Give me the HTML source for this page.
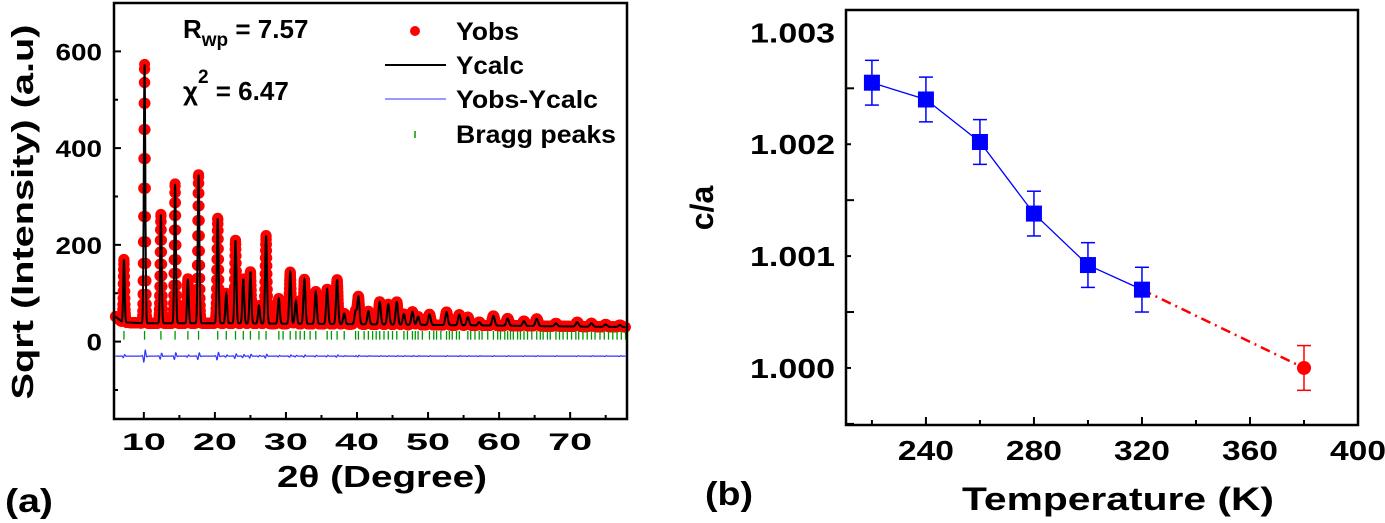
<!DOCTYPE html>
<html><head><meta charset="utf-8">
<style>
body{margin:0;background:#fff;}
svg{display:block;font-family:"Liberation Sans",Arial,sans-serif;font-weight:bold;}
</style></head>
<body>
<svg id="fig" width="1385" height="523" viewBox="0 0 1385 523">
<g id="left"></g>
<g id="right"></g>
</svg>
<script>
// ---------- Panel (a) data ----------
const peakPos = [7.2,10.1,12.4,14.4,16.2,17.7,20.4,21.6,22.9,24.0,25.0,26.2,27.2,29.0,30.6,31.4,32.6,34.2,35.8,37.2,38.2,39.8,40.2,41.6,43.2,44.4,45.6,46.6,47.8,48.6,50.2,52.6,54.4,55.6,57.2,59.2,61.2,63.5,65.3,68,71,73,75,77];
const peakHeight = [130,535,225,288,92,307,217,62,172,92,107,37,182,52,107,47,92,67,72,92,22,27,57,27,47,42,47,22,27,17,22,27,22,17,7,20,15,10,15,6,9,7,5,4];
const bgAngles = [6,7,10,20,40,60,78];
const bgValues = [52,40,38,38,36,33,30];
const braggPos = [7.2,10.1,12.4,14.4,16.2,17.7,20.4,21.6,22.9,24.0,25.0,26.2,27.2,29.0,29.6,30.6,31.4,32.0,32.6,33.4,34.2,35.8,36.4,37.2,38.2,39.8,40.2,41.0,41.6,42.2,42.7,43.2,43.8,44.4,45.0,45.6,46.6,47.1,47.8,48.2,48.6,49.2,50.2,50.8,51.2,51.8,52.6,53.0,53.4,54.0,54.4,55.6,56.0,56.6,57.2,57.6,58.4,59.2,59.8,60.2,60.8,61.2,61.6,62.0,62.6,63.0,63.5,64.0,64.6,65.3,65.8,66.2,66.8,67.2,68.0,68.5,69.0,69.6,70.2,70.8,71.2,71.8,72.4,73.0,73.5,74.2,74.8,75.4,76.0,76.6,77.2,77.8];
const diffSpike = [4,16,8,9,3,9,10,3,6,4,5,2,5,2,3,2,3,2,2,3,1,1,2,1,1,1,1,1,1,1,1,1,1,1,1,1,1,1,1,1,1,1,1,1];
const xTicksA = [10,20,30,40,50,60,70];
const yTicksA = [0,200,400,600];
// ---------- Panel (b) data ----------
const temps = [220,240,260,280,300,320];
const ratio = [1.00255,1.0024,1.00202,1.00138,1.00092,1.0007];
const ratioErr = [0.0002,0.0002,0.0002,0.0002,0.0002,0.0002];
const hotTemp = [380];
const hotRatio = [1.0000];
const hotErr = [0.0002];
const xTicksB = [240,280,320,360,400];
const yTicksB = [1.000,1.001,1.002,1.003];
const yTickLabelsB = ["1.000","1.001","1.002","1.003"];

const NS="http://www.w3.org/2000/svg";
function mk(parent,tag,attrs,txt){const e=document.createElementNS(NS,tag);for(const k in attrs)e.setAttribute(k,attrs[k]);if(txt!==undefined)e.textContent=txt;parent.appendChild(e);return e;}

// ===== Panel A =====
const L=document.getElementById('left');
const ax={x0:114,x1:627,y0:3,y1:419,xmin:5.8,xmax:78,ymin:-160,ymax:700};
const sxA=v=>ax.x0+(v-ax.xmin)/(ax.xmax-ax.xmin)*(ax.x1-ax.x0);
const syA=v=>ax.y1-(v-ax.ymin)/(ax.ymax-ax.ymin)*(ax.y1-ax.y0);
function bg(t){for(let i=0;i<bgAngles.length-1;i++){if(t<=bgAngles[i+1]){const f=(t-bgAngles[i])/(bgAngles[i+1]-bgAngles[i]);return bgValues[i]+f*(bgValues[i+1]-bgValues[i]);}}return bgValues[bgValues.length-1];}
function calc(t){let s=bg(t);for(let i=0;i<peakPos.length;i++){const w=0.09+peakPos[i]*0.0015;s+=peakHeight[i]*Math.exp(-Math.pow((t-peakPos[i])/w,2)/2);}return s;}
function diff(t){let s=-30;for(let i=0;i<peakPos.length;i++){const d=t-peakPos[i];s+=diffSpike[i]*Math.sin(d*12)*Math.exp(-d*d/0.05);}return s;}
const grid=[];for(let t=6;t<=77.8;t+=0.02)grid.push(t);

const obsG=mk(L,'g',{fill:'#ff0000'});


grid.forEach(t=>{mk(obsG,'circle',{cx:sxA(t).toFixed(1),cy:syA(calc(t)).toFixed(1),r:5.5});});
let dC='';grid.forEach((t,i)=>{dC+=(i?'L':'M')+sxA(t).toFixed(1)+','+syA(calc(t)).toFixed(1);});
const calcP=mk(L,'path',{d:dC,fill:'none',stroke:'#000',"stroke-width":2});


let dD='';grid.forEach((t,i)=>{dD+=(i?'L':'M')+sxA(t).toFixed(1)+','+syA(diff(t)).toFixed(1);});
const diffP=mk(L,'path',{d:dD,fill:'none',stroke:'#3333ff',"stroke-width":1.2});


const bG=mk(L,'g',{stroke:'#009900',"stroke-width":1.3});


braggPos.forEach(p=>{mk(bG,'line',{x1:sxA(p),x2:sxA(p),y1:syA(22),y2:syA(4)});});

const fa=mk(L,'rect',{x:ax.x0,y:ax.y0,width:ax.x1-ax.x0,height:ax.y1-ax.y0,fill:'none',stroke:'#000',"stroke-width":2.5});


for(let v=5;v<=75;v+=5){const X=sxA(v);if(X<ax.x0)continue;mk(L,'line',{x1:X,x2:X,y1:ax.y1,y2:ax.y1-(v%10?4:7),stroke:'#000',"stroke-width":2});}
xTicksA.forEach(v=>{const t=mk(L,'text',{x:sxA(v),y:450,"text-anchor":'middle',"font-size":24,textLength:44,lengthAdjust:'spacingAndGlyphs'},v);

});
for(let v=-100;v<=600;v+=100){const Y=syA(v);mk(L,'line',{x1:ax.x0,x2:ax.x0+(v%200?4:7),y1:Y,y2:Y,stroke:'#000',"stroke-width":2});}
yTicksA.forEach(v=>{const s=String(v);const t=mk(L,'text',{x:102,y:syA(v)+9,"text-anchor":'end',"font-size":24,textLength:s.length*15.5,lengthAdjust:'spacingAndGlyphs'},s);

});
let t;
t=mk(L,'text',{x:382,y:487,"text-anchor":'middle',"font-size":31,textLength:210,lengthAdjust:'spacingAndGlyphs'},'2θ (Degree)');


t=mk(L,'text',{x:0,y:0,"text-anchor":'middle',"font-size":31,textLength:375,lengthAdjust:'spacingAndGlyphs',transform:'translate(33,212) rotate(-90)'},'Sqrt (Intensity) (a.u)');


t=mk(L,'text',{x:5,y:512,"font-size":33,textLength:48,lengthAdjust:'spacingAndGlyphs'},'(a)');


t=mk(L,'text',{x:183,y:38,"font-size":26});t.innerHTML='R<tspan font-size="19" dy="8">wp</tspan><tspan dy="-8"> = 7.57</tspan>';


t=mk(L,'text',{x:183,y:100,"font-size":26});t.innerHTML='χ<tspan font-size="19" dy="-17">2</tspan><tspan dy="17"> = 6.47</tspan>';


const lg=mk(L,'g',{"font-size":25});


mk(lg,'circle',{cx:415,cy:31,r:5,fill:'#ff0000'});mk(lg,'text',{x:456,y:40,textLength:63,lengthAdjust:'spacingAndGlyphs'},'Yobs');
mk(lg,'line',{x1:385,x2:446,y1:65,y2:65,stroke:'#000',"stroke-width":2});mk(lg,'text',{x:456,y:74,textLength:68,lengthAdjust:'spacingAndGlyphs'},'Ycalc');
mk(lg,'line',{x1:385,x2:446,y1:99,y2:99,stroke:'#3333ff',"stroke-width":1});mk(lg,'text',{x:456,y:108,textLength:142,lengthAdjust:'spacingAndGlyphs'},'Yobs-Ycalc');
mk(lg,'line',{x1:415,x2:415,y1:131,y2:138,stroke:'#009900',"stroke-width":1.5});mk(lg,'text',{x:456,y:143,textLength:160,lengthAdjust:'spacingAndGlyphs'},'Bragg peaks');

// ===== Panel B =====
const R=document.getElementById('right');
const bx={x0:846,x1:1358,y0:10,y1:425,xmin:210.4,xmax:400,ymin:0.99949,ymax:1.00320};
const sxB=v=>bx.x0+(v-bx.xmin)/(bx.xmax-bx.xmin)*(bx.x1-bx.x0);
const syB=v=>bx.y1-(v-bx.ymin)/(bx.ymax-bx.ymin)*(bx.y1-bx.y0);
const fb=mk(R,'rect',{x:bx.x0,y:bx.y0,width:bx.x1-bx.x0,height:bx.y1-bx.y0,fill:'none',stroke:'#000',"stroke-width":2.5});


for(let v=220;v<=380;v+=20){const X=sxB(v);mk(R,'line',{x1:X,x2:X,y1:bx.y1,y2:bx.y1-(v%40?5:8),stroke:'#000',"stroke-width":2});}
xTicksB.forEach(v=>{const e=mk(R,'text',{x:sxB(v),y:460,"text-anchor":'middle',"font-size":28,textLength:56,lengthAdjust:'spacingAndGlyphs'},v);

});
for(let k=0;k<=6;k++){const v=0.9995+k*0.0005;const Y=syB(v);if(Y<bx.y0||Y>bx.y1)continue;mk(R,'line',{x1:bx.x0,x2:bx.x0+(k%2?5:8),y1:Y,y2:Y,stroke:'#000',"stroke-width":2});}
yTicksB.forEach((v,i)=>{const e=mk(R,'text',{x:835,y:syB(v)+10,"text-anchor":'end',"font-size":28,textLength:85,lengthAdjust:'spacingAndGlyphs'},yTickLabelsB[i]);

});
t=mk(R,'text',{x:1118,y:510,"text-anchor":'middle',"font-size":32,textLength:312,lengthAdjust:'spacingAndGlyphs'},'Temperature (K)');


t=mk(R,'text',{x:0,y:0,"text-anchor":'middle',"font-size":32,transform:'translate(713,208) rotate(-90)'},'c/a');


t=mk(R,'text',{x:705,y:505,"font-size":33,textLength:48,lengthAdjust:'spacingAndGlyphs'},'(b)');


const ext=mk(R,'line',{x1:sxB(temps[temps.length-1]),y1:syB(ratio[ratio.length-1]),x2:sxB(hotTemp[0]),y2:syB(hotRatio[0]),stroke:'#ff0000',"stroke-width":2.5,"stroke-dasharray":'10,5,2,5'});


let dl='';temps.forEach((v,i)=>{dl+=(i?'L':'M')+sxB(v)+','+syB(ratio[i]);});
const ln=mk(R,'path',{d:dl,fill:'none',stroke:'#0000ff',"stroke-width":1.3});


function errbar(g,x,y,e,col){const X=sxB(x);mk(g,'line',{x1:X,x2:X,y1:syB(y+e),y2:syB(y-e),stroke:col,"stroke-width":1.5});[y+e,y-e].forEach(v=>mk(g,'line',{x1:X-7,x2:X+7,y1:syB(v),y2:syB(v),stroke:col,"stroke-width":1.5}));}
temps.forEach((v,i)=>{const g=mk(R,'g',{});


errbar(g,v,ratio[i],ratioErr[i],'#0000ff');
mk(g,'rect',{x:sxB(v)-8,y:syB(ratio[i])-8,width:16,height:16,fill:'#0000ff'});});
hotTemp.forEach((v,i)=>{const g=mk(R,'g',{});


errbar(g,v,hotRatio[i],hotErr[i],'#ff0000');
mk(g,'circle',{cx:sxB(v),cy:syB(hotRatio[i]),r:7,fill:'#ff0000'});});
</script>
</body></html>
